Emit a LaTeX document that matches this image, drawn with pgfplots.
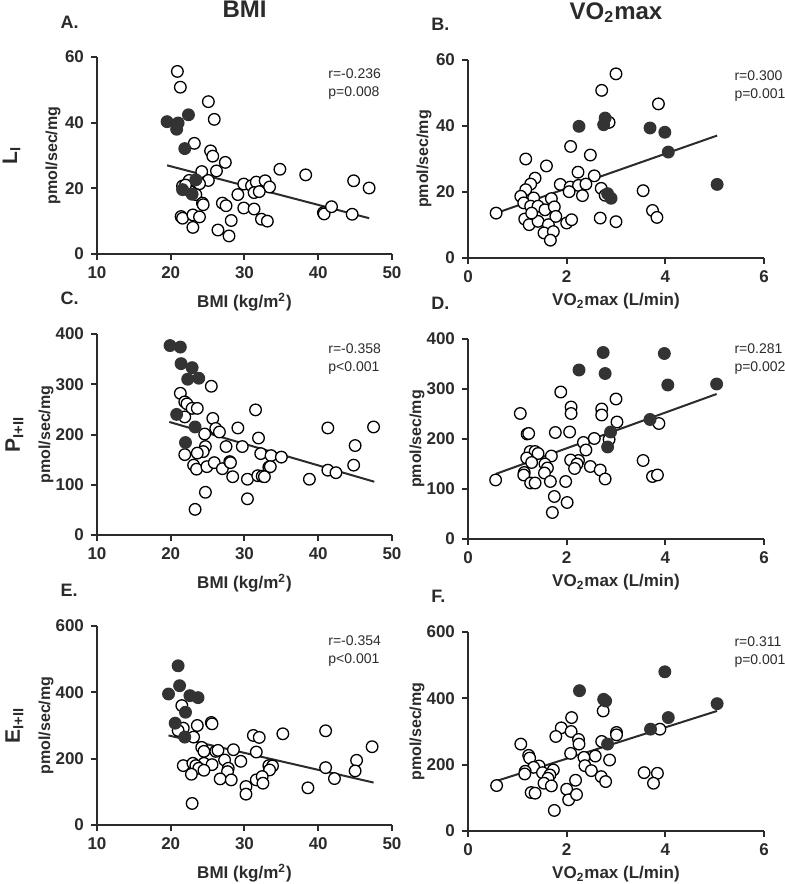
\documentclass[border=0pt]{standalone}
\usepackage{fontspec}
\setmainfont{Liberation Sans}
\usepackage{pgfplots}
\pgfplotsset{compat=1.18}
\definecolor{ink}{HTML}{2B2B2B}
\definecolor{dot}{HTML}{333333}

\pgfplotsset{
  panel/.style={
    scale only axis, anchor=south west,
    axis lines=left,
    axis line style={-, line width=1pt, ink},
    tick style={line width=1pt, ink},
    tick align=outside, major tick length=3pt,
    clip=false,
    ticklabel style={font=\bfseries\fontsize{8.5}{10}\selectfont, text=ink},
    /pgf/number format/assume math mode=true,
    xlabel style={font=\bfseries\fontsize{8.5}{10}\selectfont, text=ink,
      at={(axis description cs:0.5,0)}, anchor=center},
    ylabel style={font=\bfseries\fontsize{8}{10}\selectfont, text=ink, anchor=center},
  },
  bmi/.style={panel, width=147.5pt, xmin=10, xmax=50, xtick={10,20,30,40,50},
    xlabel={BMI (kg/m\textsuperscript{2})}, xlabel style={yshift=-24pt}},
  vo2/.style={panel, width=148pt, xmin=0, xmax=6, xtick={0,2,4,6},
    xlabel={VO\textsubscript{2}max (L/min)}, xlabel style={yshift=-21.5pt}},
  open/.style={only marks, mark=*, mark size=2.9pt,
    mark options={draw=black, fill=white, line width=0.65pt}},
  full/.style={only marks, mark=*, mark size=2.9pt,
    mark options={draw=dot, fill=dot, line width=0.65pt}},
  fit/.style={no marks, line width=1pt, ink},
}
\newcommand{\stat}[3]{\node[anchor=north west, align=left, font=\fontsize{7}{9}\selectfont, text=ink, inner sep=0pt] at (rel axis cs:#1) {#2\\#3};}
\newcommand{\letter}[1]{\node[anchor=west, font=\bfseries\fontsize{9}{10}\selectfont, text=ink, inner sep=0pt] at (rel axis cs:-0.125,1.178) {#1};}
\newcommand{\rowlab}[2]{\node[rotate=90, anchor=center, font=\bfseries\fontsize{10.5}{12}\selectfont, text=ink, inner sep=0pt] at (rel axis cs:#1,0.5) {#2};}

\begin{document}
\begin{tikzpicture}
\useasboundingbox (0,0) rectangle (392pt,442pt);

% ---------- A: L_I vs BMI
\begin{axis}[bmi, at={(48.5pt,315pt)}, height=98.5pt, ymin=0, ymax=60, ytick={0,20,40,60},
  ylabel={pmol/sec/mg}, ylabel style={at={(axis description cs:-0.149,0.5)}}]
\addplot[open] coordinates {(20.9,55.6) (21.3,50.8) (25.1,46.4) (25.9,41.0) (23.2,33.7) (25.4,31.4)
 (25.7,29.8) (27.4,27.9) (26.2,25.3) (24.2,25.1) (34.8,25.8) (38.3,24.1) (44.8,22.3) (46.9,20.1)
 (29.9,21.3) (30.95,20.8) (31.6,21.9) (32.8,22.3) (33.4,20.4) (31.3,18.7) (32.0,19.0) (29.1,18.1)
 (25.1,22.4) (23.9,21.4) (22.5,22.4) (21.6,20.7) (23.4,18.1) (24.3,15.5) (24.4,15.0) (27.0,15.5)
 (27.5,14.7) (29.9,14.0) (31.3,13.7) (40.7,12.6) (40.8,12.2) (41.8,14.4) (44.6,12.1) (21.4,11.4)
 (21.6,10.9) (23.0,11.9) (23.9,11.3) (28.2,10.2) (32.3,10.6) (33.1,10.0) (23.0,8.1) (26.4,7.3)
 (27.9,5.5) (22.7,18.9) (22.0,21.0)};
\addplot[full] coordinates {(19.5,40.3) (21.0,39.9) (20.8,38.0) (22.4,42.4) (21.9,32.1) (23.4,22.6)
 (21.6,19.6) (22.9,18.2)};
\addplot[fit] coordinates {(19.5,27.0) (46.9,10.9)};
\stat{0.783,0.944}{r=-0.236}{p=0.008}
\letter{A.}
\rowlab{-0.29}{L\textsubscript{I}}
\node[font=\bfseries\fontsize{12}{14}\selectfont, text=ink] at (rel axis cs:0.5,1.24) {BMI};
\end{axis}

% ---------- B: L_I vs VO2max
\begin{axis}[vo2, at={(234pt,313pt)}, height=99pt, ymin=0, ymax=60, ytick={0,20,40,60},
  ylabel={pmol/sec/mg}, ylabel style={at={(axis description cs:-0.149,0.5)}}]
\addplot[open] coordinates {(3.00,55.8) (2.71,50.8) (3.86,46.7) (2.86,41.1) (2.08,33.8) (2.48,31.2)
 (1.17,30.0) (1.59,27.9) (1.36,24.2) (1.27,22.4) (1.17,20.7) (1.07,18.7) (1.33,18.2) (1.69,18.0)
 (2.23,26.0) (2.56,24.9) (1.87,22.3) (2.07,21.5) (2.24,22.0) (2.39,22.4) (2.05,20.1) (2.32,18.9)
 (2.70,21.1) (2.78,19.0) (3.55,20.4) (3.74,14.4) (3.83,12.3) (0.57,13.6) (1.13,16.7) (1.27,15.7)
 (1.42,15.7) (1.56,14.6) (1.75,15.5) (1.15,11.8) (1.24,10.1) (1.42,11.1) (1.63,10.1) (1.78,12.6)
 (1.54,7.6) (1.73,8.0) (1.67,5.4) (2.00,10.6) (2.10,11.6) (2.68,12.1) (3.00,11.0) (1.29,13.6)};
\addplot[full] coordinates {(2.25,39.9) (2.78,42.4) (2.75,40.4) (3.69,39.4) (3.99,38.1) (4.06,32.1)
 (5.05,22.3) (2.83,19.5) (2.90,18.1)};
\addplot[fit] coordinates {(0.57,13.6) (5.05,37.1)};
\stat{0.899,0.95}{r=0.300}{p=0.001}
\letter{B.}
\node[font=\bfseries\fontsize{12}{14}\selectfont, text=ink] at (rel axis cs:0.5,1.24) {VO\textsubscript{2}max};
\end{axis}

% ---------- C: P_I+II vs BMI
\begin{axis}[bmi, at={(48.5pt,174.5pt)}, height=100.5pt, ymin=0, ymax=400, ytick={0,100,200,300,400},
  ylabel={pmol/sec/mg}, ylabel style={at={(axis description cs:-0.173,0.5)}}]
\addplot[open] coordinates {(25.5,296) (21.3,282) (21.9,265) (22.2,261) (22.9,252) (23.6,252)
 (21.9,235) (25.7,232) (31.5,249) (26.1,212) (26.6,205) (24.6,201) (29.1,213) (41.3,213) (47.5,215)
 (31.9,193) (27.5,176) (29.7,176) (24.7,176) (24.4,166) (23.6,163) (32.2,162) (33.6,158) (35.0,155)
 (45.0,178) (21.9,160) (23.1,139) (23.5,131) (24.9,136) (25.9,144) (27.0,132) (28.0,146) (28.1,144)
 (33.3,135) (33.5,136) (28.4,116) (30.4,111) (31.8,118) (32.4,117) (32.7,116) (38.8,111) (41.3,129)
 (42.4,124) (44.8,139) (24.7,85) (30.4,72) (23.3,51)};
\addplot[full] coordinates {(19.9,377) (21.3,374) (21.4,341) (22.9,333) (22.3,310) (23.8,312)
 (20.8,240) (23.3,215) (22.0,184)};
\addplot[fit] coordinates {(19.8,225) (47.6,106)};
\stat{0.783,0.955}{r=-0.358}{p<0.001}
\letter{C.}
\rowlab{-0.28}{P\textsubscript{I+II}}
\end{axis}

% ---------- D: P_I+II vs VO2max
\begin{axis}[vo2, at={(234pt,172.5pt)}, height=100pt, ymin=0, ymax=400, ytick={0,100,200,300,400},
  ylabel={pmol/sec/mg}, ylabel style={at={(axis description cs:-0.172,0.5)}}]
\addplot[open] coordinates {(1.88,294) (3.00,280) (2.09,264) (2.09,251) (2.71,260) (2.71,248)
 (1.06,251) (3.02,234) (3.87,231) (1.20,210) (1.23,211) (1.77,213) (2.06,214) (2.86,199) (2.56,201)
 (2.34,193) (2.39,178) (1.26,175) (1.36,175) (1.42,171) (1.19,162) (1.69,166) (1.29,153) (1.56,150)
 (1.61,142) (2.24,157) (2.08,158) (2.21,150) (2.16,141) (2.48,145) (2.68,138) (3.55,157) (1.14,133)
 (1.13,128) (1.55,132) (1.67,115) (1.98,115) (2.78,120) (3.74,125) (3.84,128) (0.56,118) (1.27,112)
 (1.36,112) (1.75,85) (2.01,73) (1.71,53)};
\addplot[full] coordinates {(2.74,373) (3.98,371) (2.25,338) (2.78,331) (4.05,308) (5.04,310)
 (3.69,239) (2.89,214) (2.83,184)};
\addplot[fit] coordinates {(0.56,130) (5.04,290)};
\stat{0.899,0.98}{r=0.281}{p=0.002}
\letter{D.}
\end{axis}

% ---------- E: E_I+II vs BMI
\begin{axis}[bmi, at={(48.5pt,29.5pt)}, height=99.5pt, ymin=0, ymax=600, ytick={0,200,400,600},
  ylabel={pmol/sec/mg}, ylabel style={at={(axis description cs:-0.173,0.5)}}]
\addplot[open] coordinates {(21.5,360) (21.7,292) (21.0,285) (23.6,300) (25.5,309) (25.6,305)
 (23.1,265) (31.2,270) (32.0,264) (35.2,275) (41.0,284) (47.3,236) (24.2,234) (24.5,222) (26.1,222)
 (26.4,225) (28.5,227) (31.6,220) (27.3,196) (29.5,192) (24.5,186) (25.6,182) (21.7,179) (23.0,186)
 (23.4,179) (23.8,171) (24.5,165) (27.8,171) (27.7,161) (22.8,153) (26.7,139) (28.2,136) (33.3,179)
 (33.8,178) (33.4,166) (31.6,136) (32.4,146) (32.5,126) (30.2,116) (30.2,93) (38.6,112) (41.0,173)
 (42.2,140) (45.2,195) (45.0,163) (22.9,65)};
\addplot[full] coordinates {(21.0,480) (21.2,420) (19.7,395) (22.6,390) (23.7,384) (22.0,340)
 (20.6,307) (21.9,265)};
\addplot[fit] coordinates {(19.7,270) (47.5,128)};
\stat{0.783,0.955}{r=-0.354}{p<0.001}
\letter{E.}
\rowlab{-0.28}{E\textsubscript{I+II}}
\end{axis}

% ---------- F: E_I+II vs VO2max
\begin{axis}[vo2, at={(234pt,26.5pt)}, height=99.5pt, ymin=0, ymax=600, ytick={0,200,400,600},
  ylabel={pmol/sec/mg}, ylabel style={at={(axis description cs:-0.172,0.5)}}]
\addplot[open] coordinates {(2.74,362) (2.10,342) (1.89,311) (2.09,300) (1.78,285) (2.24,276)
 (2.25,262) (3.01,297) (3.01,290) (2.71,270) (3.89,307) (1.07,262) (1.23,228) (1.25,220) (2.08,234)
 (2.58,226) (2.35,222) (2.87,214) (2.37,197) (2.50,182) (2.70,164) (2.79,149) (2.18,153) (1.44,196)
 (1.33,192) (1.16,180) (1.15,172) (1.51,176) (1.73,184) (1.66,169) (1.62,159) (1.54,144) (1.69,136)
 (0.58,137) (3.57,176) (3.84,174) (3.76,144) (2.00,126) (1.28,116) (1.36,114) (2.04,94) (1.75,62)
 (2.20,110)};
\addplot[full] coordinates {(3.99,480) (2.26,423) (2.75,397) (2.79,392) (5.05,384) (4.06,342)
 (3.70,307) (2.83,262)};
\addplot[fit] coordinates {(0.58,151) (5.05,362)};
\stat{0.899,0.98}{r=0.311}{p=0.001}
\letter{F.}
\end{axis}
\end{tikzpicture}
\end{document}
